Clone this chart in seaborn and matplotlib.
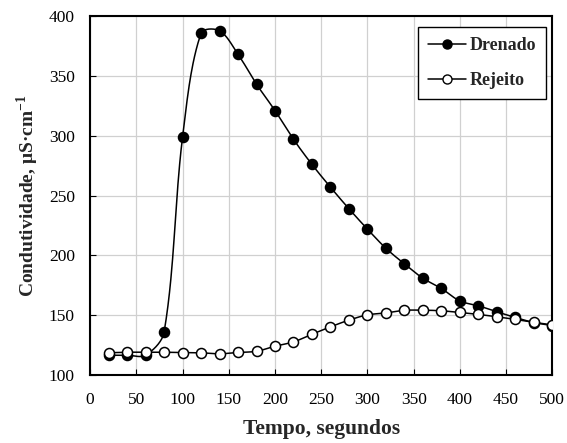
import matplotlib
matplotlib.use("Agg")
import matplotlib.pyplot as plt
import numpy as np
import seaborn as sns
from matplotlib.lines import Line2D

sns.set_theme(style="white")
plt.rcParams["font.family"] = ["Liberation Serif", "DejaVu Serif"]
plt.rcParams["mathtext.fontset"] = "custom"
plt.rcParams["mathtext.bf"] = "Liberation Serif:bold"
plt.rcParams["mathtext.rm"] = "Liberation Serif"

# Tempo (s)
tempo = [20, 40, 60, 80, 100, 120, 140, 160, 180, 200, 220, 240, 260,
         280, 300, 320, 340, 360, 380, 400, 420, 440, 460, 480, 500]

# Condutividade (uS/cm)
drenado = [116.7, 116.7, 116.7, 136, 299, 385.5, 387.6, 368, 343, 321, 297,
           276, 257, 239, 222, 206, 193, 181, 172.5, 162, 158, 153, 148.2,
           144, 141.5]
rejeito = [118.8, 119.2, 119.2, 119.2, 118.8, 118.7, 117.9, 119, 120, 124.2,
           127.8, 134.2, 140.4, 146, 150.4, 152, 154.2, 154.3, 153.8, 152.4,
           150.8, 148.8, 146.6, 144.2, 142]


def smooth_curve(x, y, n=30, sx=0.924, sy=1.197):
    """Excel-like smoothed line: Bezier segments, tangents weighted by chord length"""
    p = np.column_stack([np.asarray(x, float), np.asarray(y, float)])
    p = np.vstack([p[0], p, p[-1]])
    scale = np.array([sx, sy])
    d = np.linalg.norm(np.diff(p * scale, axis=0), axis=1)
    t = np.linspace(0, 1, n)[:, None]
    out = []
    for i in range(1, len(p) - 2):
        p0, p1, p2, p3 = p[i - 1], p[i], p[i + 1], p[i + 2]
        d0, d1, d2 = d[i - 1], d[i], d[i + 1]
        w1 = d1 / (d0 + d1) if d0 + d1 > 0 else 0.5
        w2 = d1 / (d1 + d2) if d1 + d2 > 0 else 0.5
        c1 = p1 + (p2 - p0) * w1 / 3
        c2 = p2 - (p3 - p1) * w2 / 3
        seg = ((1 - t) ** 3) * p1 + 3 * ((1 - t) ** 2) * t * c1 \
            + 3 * (1 - t) * t ** 2 * c2 + t ** 3 * p2
        out.append(seg if i == 1 else seg[1:])
    out = np.vstack(out)
    return out[:, 0], out[:, 1]


fig, ax = plt.subplots(figsize=(5.67, 4.43), dpi=100)
fig.subplots_adjust(left=0.159, right=0.974, top=0.964, bottom=0.153)

ax.grid(True, color="#d0d0d0", linewidth=0.9)
ax.set_axisbelow(True)

for vals, face in [(drenado, "black"), (rejeito, "white")]:
    sx, sy = smooth_curve(tempo, vals)
    sns.lineplot(x=sx, y=sy, ax=ax, color="black", linewidth=1.1,
                 sort=False, estimator=None)
    sns.scatterplot(x=tempo, y=vals, ax=ax, color=face, edgecolor="black",
                    linewidth=1.1, s=52, zorder=3)

ax.set_xlim(0, 500)
ax.set_ylim(100, 400)
ax.set_xticks(np.arange(0, 501, 50))
ax.set_yticks(np.arange(100, 401, 50))
ax.tick_params(direction="in", length=4, width=0.8, labelsize=12.5,
               colors="black", left=True, bottom=True)
ax.tick_params(axis="x", pad=12)
ax.tick_params(axis="y", pad=11)

for s in ax.spines.values():
    s.set_color("black")
    s.set_linewidth(1.5)

ax.set_xlabel("Tempo, segundos", fontsize=15.5, fontweight="bold", labelpad=8)
ax.set_ylabel(r"Condutividade, μS·cm$^{\mathbf{-1}}$", fontsize=14,
              fontweight="bold", labelpad=6)

handles = [
    Line2D([0], [0], color="black", lw=1.1, marker="o", markersize=6.5,
           markerfacecolor="black", markeredgecolor="black"),
    Line2D([0], [0], color="black", lw=1.1, marker="o", markersize=6.5,
           markerfacecolor="white", markeredgecolor="black"),
]
leg = ax.legend(handles, ["Drenado", "Rejeito"], loc="upper right",
                bbox_to_anchor=(0.987, 0.969), borderaxespad=0,
                frameon=True, fancybox=False,
                edgecolor="black", framealpha=1, handlelength=2.1,
                borderpad=0.55, labelspacing=1.0, handletextpad=0.2,
                prop={"weight": "bold", "size": 13})
leg.get_frame().set_linewidth(1.0)

plt.savefig("out.png", dpi=100)
